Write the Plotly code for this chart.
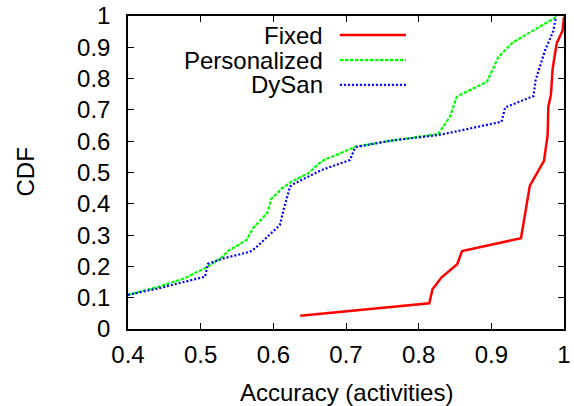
import plotly.graph_objects as go

# ---- data ----
fixed_x = [0.637, 0.8146, 0.819, 0.8316, 0.853, 0.8597, 0.9408, 0.953, 0.9725, 0.9775, 0.9784, 0.982, 0.9844, 0.990, 0.998, 1.0]
fixed_y = [0.042, 0.082, 0.127, 0.165, 0.207, 0.249, 0.290, 0.458, 0.537, 0.620, 0.710, 0.748, 0.833, 0.913, 0.953, 0.998]

pers_x = [0.400, 0.442, 0.478, 0.508, 0.529, 0.538, 0.563, 0.572, 0.592, 0.597, 0.6115, 0.625, 0.648, 0.664, 0.671, 0.692, 0.712, 0.760, 0.827, 0.843, 0.852, 0.857, 0.894, 0.910, 0.930, 0.967, 0.990]
pers_y = [0.109, 0.135, 0.162, 0.197, 0.229, 0.250, 0.284, 0.322, 0.372, 0.415, 0.449, 0.471, 0.497, 0.531, 0.542, 0.561, 0.582, 0.601, 0.623, 0.678, 0.740, 0.748, 0.790, 0.870, 0.916, 0.966, 0.998]

dysan_x = [0.400, 0.442, 0.478, 0.506, 0.510, 0.529, 0.568, 0.575, 0.609, 0.614, 0.623, 0.6275, 0.6665, 0.7055, 0.712, 0.715, 0.760, 0.827, 0.843, 0.914, 0.919, 0.958, 0.961, 0.974, 0.985, 0.989]
dysan_y = [0.109, 0.130, 0.151, 0.167, 0.208, 0.224, 0.247, 0.258, 0.332, 0.380, 0.455, 0.463, 0.508, 0.540, 0.577, 0.582, 0.601, 0.620, 0.627, 0.662, 0.708, 0.744, 0.796, 0.891, 0.950, 0.998]

series_names = ["Fixed", "Personalized", "DySan"]
series_colors = ["#ff0000", "#00ff00", "#0000ff"]
series_dash = ["solid", "3.5px,1.5px", "2px,2px"]
series_width = [2.5, 2.2, 2.2]

x_ticks = [0.4, 0.5, 0.6, 0.7, 0.8, 0.9, 1.0]
x_ticktext = ["0.4", "0.5", "0.6", "0.7", "0.8", "0.9", "1"]
y_ticks = [0, 0.1, 0.2, 0.3, 0.4, 0.5, 0.6, 0.7, 0.8, 0.9, 1.0]
y_ticktext = ["0", "0.1", "0.2", "0.3", "0.4", "0.5", "0.6", "0.7", "0.8", "0.9", "1"]

x_title = "Accuracy (activities)"
y_title = "CDF"

FONT = "Liberation Sans, Arial, sans-serif"
FS = 24

fig = go.Figure()
data = [(fixed_x, fixed_y), (pers_x, pers_y), (dysan_x, dysan_y)]
for (xs, ys), name, col, dash, w in zip(data, series_names, series_colors, series_dash, series_width):
    fig.add_trace(go.Scatter(x=xs, y=ys, mode="lines", name=name,
                             line=dict(color=col, dash=dash, width=w),
                             showlegend=False))

# gnuplot-style legend: right-aligned text, sample line to the right
leg_y = [0.939, 0.859, 0.780]
for name, col, dash, w, yy in zip(series_names, series_colors, series_dash, series_width, leg_y):
    fig.add_annotation(x=0.4495, y=yy, xref="paper", yref="paper", text=name,
                       showarrow=False, xanchor="right", yanchor="middle", borderpad=0,
                       font=dict(family=FONT, size=FS, color="black"))
    fig.add_shape(type="line", xref="paper", yref="paper", x0=0.486, x1=0.6376, y0=yy, y1=yy,
                  line=dict(color=col, dash=dash, width=w))

# axis titles
fig.add_annotation(x=0.5, y=-0.2013, xref="paper", yref="paper", text=x_title, showarrow=False,
                   xanchor="center", yanchor="middle", font=dict(family=FONT, size=FS, color="black"))
fig.add_annotation(x=-0.2362, y=0.5, xref="paper", yref="paper", text=y_title, showarrow=False,
                   textangle=-90, xanchor="center", yanchor="middle",
                   font=dict(family=FONT, size=FS, color="black"))

axis_common = dict(showgrid=False, zeroline=False, showline=True, linecolor="black", linewidth=1.5,
                   ticks="inside", ticklen=6, tickwidth=1.2, tickcolor="black", mirror="allticks",
                   automargin=False, tickfont=dict(family=FONT, size=FS, color="black"))

fig.update_xaxes(range=[0.4, 1.0], tickvals=x_ticks, ticktext=x_ticktext,
                 ticklabelstandoff=3, **axis_common)
fig.update_yaxes(range=[0, 1.0], tickvals=y_ticks, ticktext=y_ticktext,
                 ticklabelstandoff=11, **axis_common)

fig.update_layout(width=574, height=406, margin=dict(l=128, r=10, t=16, b=77, autoexpand=False),
                  paper_bgcolor="white", plot_bgcolor="white", showlegend=False)

fig.write_html("out.html", config={"displayModeBar": False},
               post_script="document.body.style.margin='0';document.body.style.overflow='hidden';")
